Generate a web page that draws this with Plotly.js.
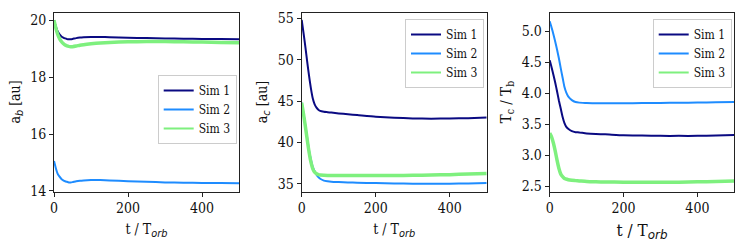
<!DOCTYPE html>
<html>
<head>
<meta charset="utf-8">
<script src="https://cdn.plot.ly/plotly-3.0.1.min.js"></script>
<style>html,body{margin:0;padding:0;background:#fff;}#chart{width:747px;height:243px;}</style>
</head>
<body>
<div id="chart"></div>
<script>
// time axis (t / T_orb)
const t = [0, 5, 10, 15, 20, 25, 30, 35, 40, 45, 50, 60, 70, 80, 100, 125, 150, 200, 250, 300, 350, 400, 450, 500];

// panel 1: a_b [au]
const ab_sim1 = [20.0, 19.78, 19.6, 19.5, 19.43, 19.39, 19.36, 19.34, 19.33, 19.33, 19.34, 19.37, 19.39, 19.40, 19.41, 19.41, 19.40, 19.38, 19.37, 19.36, 19.35, 19.34, 19.335, 19.33];
const ab_sim2 = [15.05, 14.8, 14.6, 14.5, 14.42, 14.37, 14.34, 14.32, 14.30, 14.30, 14.31, 14.34, 14.36, 14.37, 14.38, 14.38, 14.37, 14.34, 14.32, 14.30, 14.29, 14.28, 14.275, 14.27];
const ab_sim3 = [20.0, 19.72, 19.5, 19.35, 19.25, 19.18, 19.13, 19.10, 19.08, 19.07, 19.07, 19.09, 19.12, 19.14, 19.17, 19.2, 19.22, 19.24, 19.25, 19.25, 19.24, 19.23, 19.22, 19.21];

// panel 2: a_c [au]
const ac_sim1 = [54.8, 53.2, 51.5, 49.7, 48.0, 46.5, 45.3, 44.6, 44.2, 43.95, 43.8, 43.7, 43.65, 43.6, 43.5, 43.4, 43.3, 43.1, 42.97, 42.9, 42.87, 42.88, 42.93, 43.0];
const ac_sim2 = [44.8, 43.5, 42.0, 40.5, 39.0, 37.9, 37.0, 36.5, 36.1, 35.8, 35.6, 35.38, 35.3, 35.25, 35.2, 35.15, 35.12, 35.08, 35.03, 35.0, 34.99, 35.0, 35.03, 35.08];
const ac_sim3 = [44.8, 43.4, 41.9, 40.3, 38.8, 37.6, 36.8, 36.4, 36.2, 36.1, 36.05, 36.02, 36.0, 36.0, 36.0, 36.0, 36.0, 36.0, 36.0, 36.02, 36.05, 36.1, 36.17, 36.25];

// panel 3: T_c / T_b
const tr_sim1 = [4.53, 4.42, 4.3, 4.17, 4.03, 3.88, 3.75, 3.62, 3.52, 3.46, 3.43, 3.39, 3.375, 3.37, 3.355, 3.345, 3.34, 3.325, 3.32, 3.315, 3.315, 3.315, 3.32, 3.33];
const tr_sim2 = [5.16, 5.06, 4.95, 4.83, 4.7, 4.56, 4.4, 4.25, 4.1, 4.01, 3.95, 3.89, 3.86, 3.85, 3.845, 3.84, 3.84, 3.84, 3.842, 3.845, 3.848, 3.85, 3.855, 3.86];
const tr_sim3 = [3.36, 3.3, 3.2, 3.07, 2.92, 2.79, 2.7, 2.66, 2.63, 2.62, 2.61, 2.6, 2.595, 2.59, 2.58, 2.575, 2.572, 2.57, 2.568, 2.568, 2.57, 2.575, 2.582, 2.59];

const simNames = ["Sim 1", "Sim 2", "Sim 3"];
const colors = ["#0a0a82", "#1e8cff", "#7ef07e"];
const widths = [2, 2, 3.5];

const panels = [
  {series: [ab_sim1, ab_sim2, ab_sim3], xa: "x", ya: "y", legend: "legend"},
  {series: [ac_sim1, ac_sim2, ac_sim3], xa: "x2", ya: "y2", legend: "legend2"},
  {series: [tr_sim1, tr_sim2, tr_sim3], xa: "x3", ya: "y3", legend: "legend3"}
];

const data = [];
panels.forEach(p => {
  p.series.forEach((s, i) => {
    data.push({x: t, y: s, type: "scatter", mode: "lines", xaxis: p.xa, yaxis: p.ya,
      line: {color: colors[i], width: widths[i], shape: "spline", smoothing: 0.6},
      showlegend: false, hoverinfo: "skip"});
  });
  simNames.forEach((n, i) => {
    data.push({x: [null], y: [null], type: "scatter", mode: "lines", xaxis: p.xa, yaxis: p.ya,
      name: n, legend: p.legend, line: {color: colors[i], width: 2}, showlegend: true});
  });
});

const serif = "DejaVu Serif Condensed";
const sub = s => "<sub><i><span style='font-family:DejaVu Sans'>" + s + "</span></i></sub>";

function xax(domain, anchor, tsize) {
  return {domain: domain, anchor: anchor, range: [0, 500], tickvals: [0, 200, 400],
    showline: true, mirror: true, linecolor: "#222", linewidth: 1, showgrid: false, zeroline: false,
    ticks: "outside", ticklen: 4, tickcolor: "#222", tickfont: {family: serif, size: 14, color: "#111"},
    title: {text: "t / T" + sub("orb"), font: {family: serif, size: tsize, color: "#111"}, standoff: 8},
    automargin: false};
}
function yax(domain, anchor, range, tickvals, ticktext, title, tsize) {
  return {domain: domain, anchor: anchor, range: range, tickvals: tickvals, ticktext: ticktext,
    showline: true, mirror: true, linecolor: "#222", linewidth: 1, showgrid: false, zeroline: false,
    ticks: "outside", ticklen: 4, tickcolor: "#222", tickfont: {family: serif, size: 14, color: "#111"},
    title: {text: title, font: {family: serif, size: tsize, color: "#111"}, standoff: 6},
    automargin: false};
}

const yd = [1 - 191.5 / 243, 1 - 12.5 / 243];
const legendStyle = (x, y) => ({x: x, y: y, xanchor: "left", yanchor: "top", bgcolor: "rgba(255,255,255,0.9)",
  bordercolor: "#cccccc", borderwidth: 1, font: {family: serif, size: 12, color: "#111"},
  itemwidth: 30, tracegroupgap: 0});

const layout = {
  width: 747, height: 243,
  margin: {l: 0, r: 0, t: 0, b: 0},
  paper_bgcolor: "#fff", plot_bgcolor: "#fff",
  font: {family: serif},
  xaxis: xax([54 / 747, 239 / 747], "y", 14),
  yaxis: yax(yd, "x", [13.98, 20.27], [14, 16, 18, 20], ["14", "16", "18", "20"], "a<sub><i><span style='font-family:DejaVu Sans'>b</span></i></sub> [au]", 14),
  xaxis2: xax([301.7 / 747, 486.7 / 747], "y2", 14),
  yaxis2: yax(yd, "x2", [34.06, 55.7], [35, 40, 45, 50, 55], ["35", "40", "45", "50", "55"], "a<sub><i><span style='font-family:DejaVu Sans'>c</span></i></sub> [au]", 14),
  xaxis3: xax([549.7 / 747, 734.3 / 747], "y3", 17),
  yaxis3: yax(yd, "x3", [2.42, 5.30], [2.5, 3.0, 3.5, 4.0, 4.5, 5.0], ["2.5", "3.0", "3.5", "4.0", "4.5", "5.0"], "T<sub>c</sub> / T<sub>b</sub>", 15),
  legend: legendStyle(157.7 / 747, 1 - 75 / 243),
  legend2: legendStyle(405 / 747, 1 - 19 / 243),
  legend3: legendStyle(652.7 / 747, 1 - 19 / 243)
};

Plotly.newPlot("chart", data, layout, {staticPlot: true, displayModeBar: false});
</script>
</body>
</html>
